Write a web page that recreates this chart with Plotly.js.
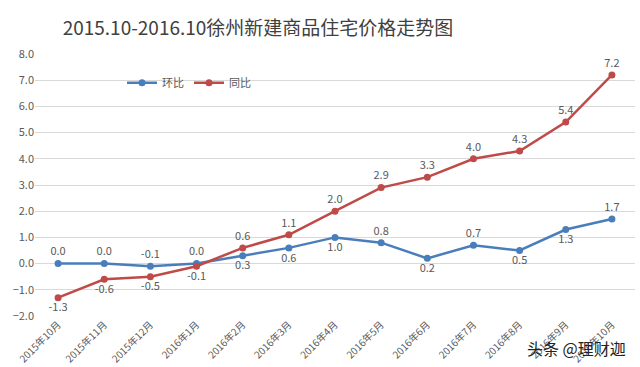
<!DOCTYPE html>
<html>
<head>
<meta charset="utf-8">
<script src="https://cdn.plot.ly/plotly-3.0.1.min.js"></script>
<style>html,body{margin:0;padding:0;background:#fff;}#chart{width:640px;height:367px;}</style>
</head>
<body>
<div id="chart"></div>
<script>
const categories = ["2015年10月","2015年11月","2015年12月","2016年1月","2016年2月","2016年3月","2016年4月","2016年5月","2016年6月","2016年7月","2016年8月","2016年9月","2016年10月"];
const momValues = [0.0, 0.0, -0.1, 0.0, 0.3, 0.6, 1.0, 0.8, 0.2, 0.7, 0.5, 1.3, 1.7];
const yoyValues = [-1.3, -0.6, -0.5, -0.1, 0.6, 1.1, 2.0, 2.9, 3.3, 4.0, 4.3, 5.4, 7.2];
const momLabelPos = ["top center","top center","top center","top center","bottom center","bottom center","bottom center","top center","bottom center","top center","bottom center","bottom center","top center"];
const yoyLabelPos = ["bottom center","bottom center","bottom center","bottom center","top center","top center","top center","top center","top center","top center","top center","top center","top center"];

const fontFam = '"Noto Sans CJK SC", "Noto Sans", sans-serif';
const traces = [
  {
    x: categories, y: momValues, name: "环比", type: "scatter", mode: "lines+markers+text",
    text: momValues.map(v => v.toFixed(1)), textposition: momLabelPos,
    textfont: {size: 11, color: "#595959", family: fontFam},
    line: {color: "#4a7ebb", width: 2.5}, marker: {color: "#4a7ebb", size: 7},
    cliponaxis: false
  },
  {
    x: categories, y: yoyValues, name: "同比", type: "scatter", mode: "lines+markers+text",
    text: yoyValues.map(v => v.toFixed(1)), textposition: yoyLabelPos,
    textfont: {size: 11, color: "#595959", family: fontFam},
    line: {color: "#be4b48", width: 2.5}, marker: {color: "#be4b48", size: 7},
    cliponaxis: false
  }
];
const layout = {
  width: 640, height: 367,
  margin: {l: 35, r: 5, t: 54, b: 51},
  paper_bgcolor: "#fff", plot_bgcolor: "#fff",
  font: {family: fontFam, color: "#595959"},
  title: {text: "2015.10-2016.10徐州新建商品住宅价格走势图", font: {size: 19, color: "#404040", family: fontFam},
          x: 258/640, xanchor: "center", y: 1 - 28/367, yanchor: "middle"},
  xaxis: {type: "category", range: [-0.5, 12.5], tickangle: -45, tickfont: {size: 10, color: "#595959"}, showgrid: false,
          showline: false, ticks: "", automargin: false},
  yaxis: {range: [-2, 8], dtick: 1, tickformat: ".1f", tickfont: {size: 11, color: "#595959"},
          gridcolor: "#d9d9d9", gridwidth: 1, zeroline: false, showline: false, ticks: "", automargin: false},
  showlegend: true,
  legend: {orientation: "h", x: 0.145, y: 0.89, xanchor: "left", yanchor: "middle",
           font: {size: 11, color: "#595959"}, bgcolor: "rgba(0,0,0,0)", itemwidth: 30},
  annotations: [
    {text: "头条 @理财迦", xref: "paper", yref: "paper", x: 0.988, y: -0.122, xanchor: "right", yanchor: "middle",
     showarrow: false, font: {size: 16, color: "#222", family: fontFam}}
  ]
};
Plotly.newPlot("chart", traces, layout, {displayModeBar: false, staticPlot: true});
</script>
</body>
</html>
